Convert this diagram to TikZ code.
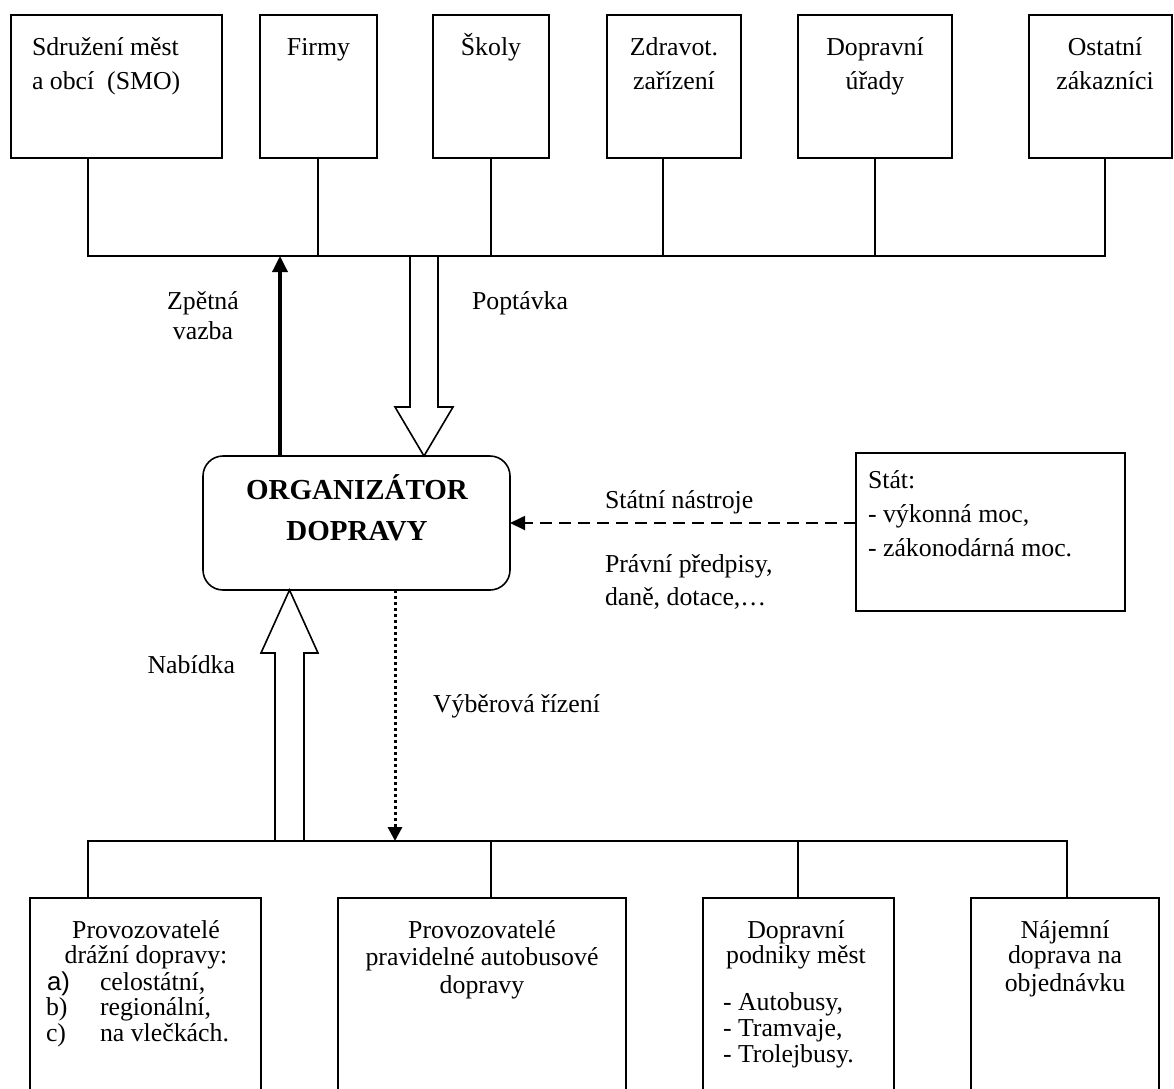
\documentclass[tikz,border=0pt]{standalone}
\usepackage{fontspec}
\setmainfont{Liberation Serif}
\newfontfamily\arialfont{Liberation Sans}
\usetikzlibrary{arrows.meta}
\begin{document}
\begin{tikzpicture}[x=1pt,y=-1pt,
  box/.style={draw, line width=1.6pt, rectangle, inner sep=0pt, outer sep=0pt},
  rbox/.style={draw, line width=1.6pt, rectangle, rounded corners=20pt, inner sep=0pt, outer sep=0pt},
  txt/.style={inner sep=0pt, outer sep=0pt, font=\fontsize{25.8}{30}\selectfont},
  btxt/.style={inner sep=0pt, outer sep=0pt, font=\fontsize{29}{34}\selectfont\bfseries},
  bus/.style={line width=1.8pt},
  hollow/.style={line width=1.6pt, line join=miter},
  feedback/.style={line width=3.5pt, -{Triangle[length=16pt,width=15pt]}},
  statearrow/.style={line width=1.8pt, dash pattern=on 12pt off 7pt, -{Triangle[length=15pt,width=14pt]}},
  tenderarrow/.style={line width=3pt, dash pattern=on 3pt off 3pt, -{Triangle[length=14pt,width=14pt]}}
]
\useasboundingbox (0,0) rectangle (1174,1088);
\clip (0,0) rectangle (1174,1088);

% ---------- top boxes ----------
\node[box, minimum width=211pt, minimum height=143pt] (t1) at (116.5,86.5) {};
\node[box, minimum width=117pt, minimum height=143pt] (t2) at (318.5,86.5) {};
\node[box, minimum width=116pt, minimum height=143pt] (t3) at (491,86.5) {};
\node[box, minimum width=134pt, minimum height=143pt] (t4) at (674,86.5) {};
\node[box, minimum width=154pt, minimum height=143pt] (t5) at (875,86.5) {};
\node[box, minimum width=143pt, minimum height=143pt] (t6) at (1100.5,86.5) {};

\node[txt, anchor=base west] (t1a) at (32,55) {Sdružení měst};
\node[txt, anchor=base west] (t1b) at (32,89) {a obcí\ \ (SMO)};
\node[txt, anchor=base] (t2a) at (318.5,55) {Firmy};
\node[txt, anchor=base] (t3a) at (491,55) {Školy};
\node[txt, anchor=base] (t4a) at (674,55) {Zdravot.};
\node[txt, anchor=base] (t4b) at (674,89) {zařízení};
\node[txt, anchor=base] (t5a) at (875,55) {Dopravní};
\node[txt, anchor=base] (t5b) at (875,89) {úřady};
\node[txt, anchor=base] (t6a) at (1105,55) {Ostatní};
\node[txt, anchor=base] (t6b) at (1105,89) {zákazníci};

% top bus
\coordinate (j1) at (88,256);
\coordinate (j2) at (318,256);
\coordinate (j3) at (491,256);
\coordinate (j4) at (663,256);
\coordinate (j5) at (875,256);
\coordinate (j6) at (1105,256);
\draw[bus] (j1 |- t1.south) -- (j1) -- (j6) -- (j6 |- t6.south);
\draw[bus] (j2 |- t2.south) -- (j2);
\draw[bus] (j3 |- t3.south) -- (j3);
\draw[bus] (j4 |- t4.south) -- (j4);
\draw[bus] (j5 |- t5.south) -- (j5);

% ---------- organizer ----------
\node[rbox, minimum width=307pt, minimum height=134pt] (org) at (356.5,523) {};
\node[btxt, anchor=base] (orga) at (357,499) {ORGANIZÁTOR};
\node[btxt, anchor=base] (orgb) at (357,540) {DOPRAVY};

% feedback arrow
\coordinate (zp) at (280,256);
\draw[feedback] (zp |- org.north) -- (zp);
\node[txt, anchor=base] (zpa) at (203,309) {Zpětná};
\node[txt, anchor=base] (zpb) at (203,339) {vazba};

% demand hollow arrow
\coordinate (popTop) at (424,256);
\coordinate (popTip) at (popTop |- org.north);
\draw[hollow] (popTop) ++(-14,0) -- ++(0,151) -- ++(-15,0) -- (popTip) -- ++(29,-49) -- ++(-15,0) -- ++(0,-151);
\node[txt, anchor=base west] (popl) at (472,309) {Poptávka};

% ---------- state ----------
\node[box, minimum width=269pt, minimum height=158pt] (stat) at (990.5,532) {};
\node[txt, anchor=base west] (sta) at (868,488) {Stát:};
\node[txt, anchor=base west] (stb) at (868,522) {- výkonná moc,};
\node[txt, anchor=base west] (stc) at (868,556) {- zákonodárná moc.};
\draw[statearrow] (stat.west |- org.east) -- (org.east);
\node[txt, anchor=base west] (sna) at (605,508) {Státní nástroje};
\node[txt, anchor=base west] (pra) at (605,572) {Právní předpisy,};
\node[txt, anchor=base west] (prb) at (605,605) {daně, dotace,…};

% ---------- bottom bus ----------
\coordinate (k1) at (88,841);
\coordinate (k2) at (491,841);
\coordinate (k3) at (798,841);
\coordinate (k4) at (1067,841);

\node[box, minimum width=231pt, minimum height=210pt] (b1) at (145.5,1003) {};
\node[box, minimum width=288pt, minimum height=210pt] (b2) at (482,1003) {};
\node[box, minimum width=191pt, minimum height=210pt] (b3) at (798.5,1003) {};
\node[box, minimum width=188pt, minimum height=210pt] (b4) at (1065,1003) {};

\draw[bus] (k1 |- b1.north) -- (k1) -- (k4) -- (k4 |- b4.north);
\draw[bus] (k2) -- (k2 |- b2.north);
\draw[bus] (k3) -- (k3 |- b3.north);

% offer hollow arrow
\coordinate (nabBot) at (289.5,841);
\coordinate (nabTip) at (nabBot |- org.south);
\draw[hollow] (nabBot) ++(-14.5,0) -- ++(0,-188) -- ++(-14,0) -- (nabTip) -- ++(28.5,63) -- ++(-14,0) -- ++(0,188);
\node[txt, anchor=base east] (nab) at (235,673) {Nabídka};

% tender dotted arrow
\coordinate (vz) at (395,841);
\draw[tenderarrow] (vz |- org.south) -- (vz);
\node[txt, anchor=base west] (vyb) at (433,712) {Výběrová řízení};

% bottom texts
\node[txt, anchor=base] (b1a) at (146,938) {Provozovatelé};
\node[txt, anchor=base] (b1b) at (146,963) {drážní dopravy:};
\node[txt, anchor=base west] (b1c) at (47,990) {\arialfont a)};
\node[txt, anchor=base west] (b1cc) at (100,990) {celostátní,};
\node[txt, anchor=base west] (b1d) at (46,1015) {b)};
\node[txt, anchor=base west] (b1dd) at (100,1015) {regionální,};
\node[txt, anchor=base west] (b1e) at (46,1041) {c)};
\node[txt, anchor=base west] (b1ee) at (100,1041) {na vlečkách.};

\node[txt, anchor=base] (b2a) at (482,938) {Provozovatelé};
\node[txt, anchor=base] (b2b) at (482,965) {pravidelné autobusové};
\node[txt, anchor=base] (b2c) at (482,993) {dopravy};

\node[txt, anchor=base] (b3a) at (796,938) {Dopravní};
\node[txt, anchor=base] (b3b) at (796,963) {podniky měst};
\node[txt, anchor=base west] (b3c) at (723,1010) {- Autobusy,};
\node[txt, anchor=base west] (b3d) at (723,1036) {- Tramvaje,};
\node[txt, anchor=base west] (b3e) at (723,1062) {- Trolejbusy.};

\node[txt, anchor=base] (b4a) at (1065,938) {Nájemní};
\node[txt, anchor=base] (b4b) at (1065,963) {doprava na};
\node[txt, anchor=base] (b4c) at (1065,991) {objednávku};
\end{tikzpicture}
\end{document}
